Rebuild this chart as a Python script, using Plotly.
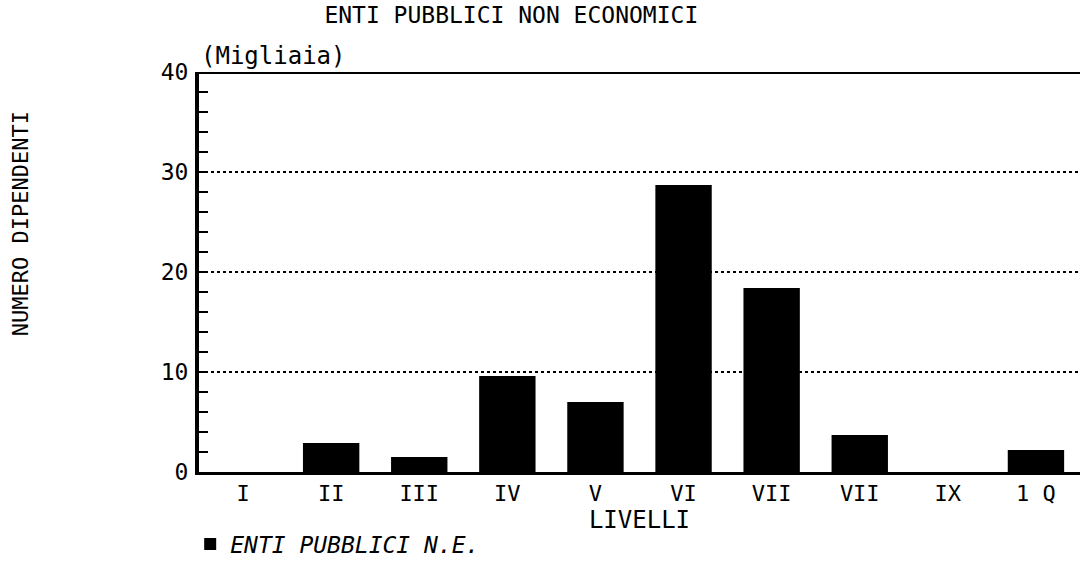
import plotly.graph_objects as go

# Livelli di inquadramento e dipendenti (migliaia)
livelli = ["I", "II", "III", "IV", "V", "VI", "VII", "VIII", "IX", "X"]
etichette = ["I", "II", "III", "IV", "V", "VI", "VII", "VII", "IX", "1 Q"]
dipendenti = [0.0, 2.9, 1.5, 9.6, 7.0, 28.7, 18.4, 3.7, 0.0, 2.2]

y_ticks = [0, 10, 20, 30, 40]

FONT = "DejaVu Sans Mono"

fig = go.Figure()
fig.add_trace(go.Bar(
    x=livelli,
    y=dipendenti,
    width=0.64,
    marker=dict(color="black", line=dict(width=0)),
    name="ENTI PUBBLICI N.E.",
    showlegend=True,
))

fig.update_layout(
    width=1081,
    height=567,
    margin=dict(l=199, r=1, t=72, b=93),
    paper_bgcolor="white",
    plot_bgcolor="white",
    font=dict(family=FONT, color="black", size=22),
    title=dict(
        text="ENTI PUBBLICI NON ECONOMICI",
        x=0.473, xanchor="center",
        y=0.973, yanchor="middle",
        font=dict(family=FONT, size=23, color="black"),
    ),
    showlegend=True,
    legend=dict(
        x=-0.01, xanchor="left",
        y=-0.18, yanchor="middle",
        orientation="h",
        font=dict(family=FONT, size=23, color="black", style="italic"),
        bgcolor="rgba(0,0,0,0)",
    ),
)

fig.update_xaxes(
    type="category",
    range=[-0.5, 9.5],
    tickmode="array",
    tickvals=livelli,
    ticktext=etichette,
    showline=True, linecolor="black", linewidth=3,
    ticks="", showgrid=False, zeroline=False,
    tickfont=dict(family=FONT, size=22, color="black"),
    title=dict(text="LIVELLI", standoff=0,
               font=dict(family=FONT, size=24, color="black")),
)

fig.update_yaxes(
    range=[0, 40],
    tickmode="array",
    tickvals=y_ticks,
    ticktext=[str(v) for v in y_ticks],
    showline=True, linecolor="black", linewidth=4,
    ticks="inside", ticklen=9, tickwidth=2, tickcolor="black",
    minor=dict(dtick=2, ticks="inside", ticklen=9, tickwidth=2,
               tickcolor="black", showgrid=False),
    showgrid=True, gridcolor="black", gridwidth=2, griddash="dot",
    zeroline=False,
    tickfont=dict(family=FONT, size=23, color="black"),
    ticklabelstandoff=2,
)

# Bordo superiore del grafico
fig.add_shape(type="line", xref="paper", yref="y",
              x0=0, x1=1, y0=40, y1=40,
              line=dict(color="black", width=4))

# Unita' di misura e titolo asse verticale
fig.add_annotation(text="(Migliaia)", xref="paper", yref="paper",
                   x=0.0, xanchor="left", y=1.04, yanchor="middle",
                   showarrow=False,
                   font=dict(family=FONT, size=24, color="black"))
fig.add_annotation(text="NUMERO DIPENDENTI", xref="paper", yref="paper",
                   x=-0.203, xanchor="center", y=0.62, yanchor="middle",
                   textangle=-90, showarrow=False,
                   font=dict(family=FONT, size=22, color="black"))

fig.write_html("out.html")
